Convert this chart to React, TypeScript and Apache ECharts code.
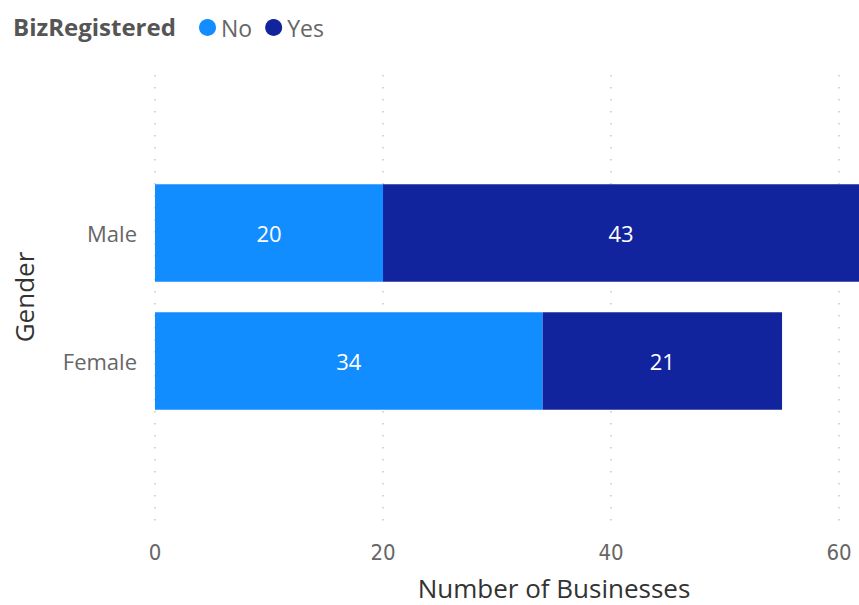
import React, { useEffect, useRef } from "react";
import * as echarts from "echarts";

const categories = ["Female", "Male"];
const noValues = [34, 20];
const yesValues = [21, 43];
const seriesNames = ["No", "Yes"];
const legendTitle = "BizRegistered";
const xAxisTitle = "Number of Businesses";
const yAxisTitle = "Gender";
const xTickInterval = 20;

const FONT = "'Open Sans', 'Noto Sans', sans-serif";
const NARROW = "'Liberation Sans Narrow', 'DejaVu Sans Condensed', 'Open Sans', sans-serif";

export default function App() {
  const ref = useRef<HTMLDivElement>(null);
  useEffect(() => {
    document.body.style.margin = "0";
    const chart = echarts.init(ref.current!, null, { renderer: "svg" });
    const xCommon = {
      type: "value" as const,
      min: 0,
      max: 61.75,
      interval: xTickInterval,
    };
    chart.setOption({
      animation: false,
      textStyle: { fontFamily: FONT },
      title: {
        text: legendTitle,
        left: 8,
        top: 9,
        textStyle: { fontSize: 24, fontWeight: "bold", color: "#555", fontFamily: FONT },
      },
      legend: {
        left: 194,
        top: 11,
        icon: "circle",
        itemWidth: 17,
        itemHeight: 17,
        itemGap: 13,
        textStyle: { fontSize: 23, color: "#666", fontFamily: FONT },
        data: seriesNames,
      },
      grid: [
        { left: 155, right: 0, top: 169, bottom: 180, outerBoundsMode: "none" },
        { left: 155, right: 0, top: 75, bottom: 74, outerBoundsMode: "none" },
      ],
      xAxis: [
        {
          ...xCommon,
          gridIndex: 0,
          show: false,
          splitLine: { show: false },
        },
        {
          ...xCommon,
          gridIndex: 1,
          axisLine: { show: false },
          axisTick: { show: false },
          axisLabel: { color: "#666", fontSize: 22, margin: 10, showMaxLabel: false, fontFamily: NARROW },
          splitLine: {
            show: true,
            showMaxLine: false,
            lineStyle: { type: [1.5, 10.5], color: "#c6c6c6", width: 1.5 },
          },
        },
      ],
      yAxis: [
        {
          type: "category",
          gridIndex: 0,
          data: categories,
          axisLine: { show: false },
          axisTick: { show: false },
          axisLabel: { color: "#666", fontSize: 22, margin: 18, fontFamily: FONT },
          name: yAxisTitle,
          nameLocation: "middle",
          nameRotate: 90,
          nameGap: 118,
          nameTextStyle: { fontSize: 26, color: "#333", fontFamily: FONT },
        },
        {
          type: "value",
          gridIndex: 1,
          show: false,
          min: 0,
          max: 1,
        },
      ],
      graphic: [
        {
          type: "text",
          x: 554,
          y: 588,
          style: {
            text: xAxisTitle,
            fontSize: 26,
            lineHeight: 26,
            fill: "#333",
            fontFamily: FONT,
            align: "center",
            verticalAlign: "middle",
          },
        },
      ],
      series: [
        {
          name: seriesNames[0],
          type: "bar",
          stack: "total",
          xAxisIndex: 0,
          yAxisIndex: 0,
          data: noValues,
          barCategoryGap: "24%",
          itemStyle: { color: "#118DFF" },
          label: { show: true, position: "inside", color: "#fff", fontSize: 22, fontFamily: FONT },
        },
        {
          name: seriesNames[1],
          type: "bar",
          stack: "total",
          xAxisIndex: 0,
          yAxisIndex: 0,
          data: yesValues,
          barCategoryGap: "24%",
          itemStyle: { color: "#12239E" },
          label: { show: true, position: "inside", color: "#fff", fontSize: 22, fontFamily: FONT },
        },
      ],
    });
    return () => chart.dispose();
  }, []);
  return <div ref={ref} style={{ width: 859, height: 605 }} />;
}
